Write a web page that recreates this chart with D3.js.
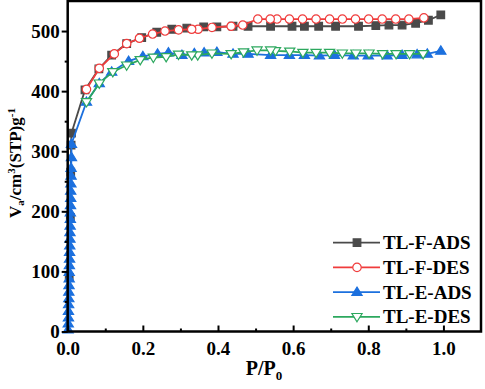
<!DOCTYPE html>
<html>
<head>
<meta charset="utf-8">
<script src="https://cdn.jsdelivr.net/npm/d3@7"></script>
<style>
  body { margin: 0; background: #fff; }
  text { font-family: "Liberation Serif", "Times New Roman", serif; font-weight: bold; }
</style>
</head>
<body>
<script>
// TL-F adsorption
var fAdsP = [0.004, 0.007, 0.008, 0.009, 0.01, 0.046, 0.083, 0.117, 0.157, 0.197, 0.237, 0.277, 0.317,
    0.362, 0.397, 0.44, 0.48, 0.54, 0.597, 0.63, 0.668, 0.713, 0.774, 0.82, 0.855, 0.89, 0.926, 0.96, 0.993];
var fAdsV = [90, 190, 265, 310, 330, 402, 437, 460, 479, 489, 498, 503, 505,
    507, 507, 508, 508, 508, 508, 508, 508, 508, 508, 509, 510, 510, 513, 518, 527];

// TL-F desorption
var fDesP = [0.948, 0.908, 0.873, 0.837, 0.801, 0.766, 0.731, 0.697, 0.661, 0.625, 0.59, 0.557, 0.539, 0.506,
    0.466, 0.435, 0.384, 0.347, 0.33, 0.295, 0.259, 0.226, 0.191, 0.157, 0.124, 0.084, 0.05];
var fDesV = [522, 520, 520, 520, 520, 520, 520, 520, 520, 520, 520, 520, 520, 520,
    510, 508, 506, 503, 503, 502, 500, 495, 488, 479, 462, 438, 403];

// TL-E adsorption
var eAdsP = [0.001, 0.0015, 0.002, 0.002, 0.0025, 0.003, 0.003, 0.0035, 0.004, 0.004, 0.0045, 0.005, 0.005,
    0.0055, 0.006, 0.006, 0.0065, 0.007, 0.007, 0.0075, 0.008, 0.008, 0.0085, 0.009, 0.009, 0.01, 0.01,
    0.05, 0.084, 0.117, 0.162, 0.2, 0.239, 0.268, 0.304, 0.337, 0.363, 0.397, 0.44, 0.48, 0.54, 0.59,
    0.63, 0.67, 0.71, 0.76, 0.8, 0.85, 0.89, 0.93, 0.957, 0.993];
var eAdsV = [3, 13, 23, 34, 45, 55, 66, 77, 88, 99, 110, 121, 132, 143, 154, 165, 176, 187, 198, 210,
    222, 234, 246, 259, 272, 290, 312,
    382, 413, 432, 450, 458, 462, 464, 460, 463, 464, 465, 462, 462, 460, 460,
    460, 459, 460, 459, 459, 459, 460, 461, 462, 467];

// TL-E desorption
var eDesP = [0.946, 0.91, 0.874, 0.838, 0.802, 0.767, 0.731, 0.697, 0.661, 0.626, 0.591, 0.553, 0.54, 0.504,
    0.468, 0.435, 0.384, 0.346, 0.33, 0.295, 0.262, 0.228, 0.193, 0.157, 0.12, 0.084, 0.05];
var eDesV = [462, 462, 462, 462, 463, 463, 463, 464, 464, 464, 466, 467, 468, 468,
    465, 462, 463, 460, 460, 461, 457, 456, 452, 443, 432, 413, 382];

var seriesNames = ["TL-F-ADS", "TL-F-DES", "TL-E-ADS", "TL-E-DES"];
var seriesColors = ["#4a4a4a", "#f03c3c", "#1c70de", "#2ca85e"];
var seriesShapes = ["square", "circle", "up", "down"];
var xTicks = [0, 0.2, 0.4, 0.6, 0.8, 1.0];
var yTicks = [0, 100, 200, 300, 400, 500];

var series = [
    { name: seriesNames[0], p: fAdsP, v: fAdsV },
    { name: seriesNames[1], p: fDesP, v: fDesV },
    { name: seriesNames[2], p: eAdsP, v: eAdsV },
    { name: seriesNames[3], p: eDesP, v: eDesV }
];

var width = 485, height = 389;
var pLeft = 67.7, pRight = 481, pTop = 1, pBottom = 331.5;

var svg = d3.select("body").append("svg")
    .attr("width", width)
    .attr("height", height);

var x = d3.scaleLinear().domain([0, 1.1]).range([pLeft, pRight]);
var y = d3.scaleLinear().domain([0, 550]).range([pBottom, pTop]);

var line = d3.line()
    .x(function (d) { return x(d[0]); })
    .y(function (d) { return y(d[1]); });

// marker path centered on 0,0
function marker(shape) {
    if (shape == "square") return "M-3.8,-3.8H3.8V3.8H-3.8Z";
    if (shape == "circle") return "M-4.2,0A4.2,4.2 0 1,0 4.2,0A4.2,4.2 0 1,0 -4.2,0Z";
    if (shape == "up") return "M0,-5L5.1,3.3L-5.1,3.3Z";
    return "M0,5L5.1,-3.3L-5.1,-3.3Z";
}
function filled(shape) { return shape == "square" || shape == "up"; }

var plot = svg.append("g");

series.forEach(function (s, i) {
    var pts = s.p.map(function (p, j) { return [p, s.v[j]]; });
    var g = plot.append("g").attr("class", "series");
    g.append("path")
        .datum(pts)
        .attr("fill", "none")
        .attr("stroke", seriesColors[i])
        .attr("stroke-width", 1.8)
        .attr("d", line);
    g.selectAll("path.pt")
        .data(pts)
        .enter()
        .append("path")
        .attr("class", "pt")
        .attr("transform", function (d) { return "translate(" + x(d[0]) + "," + y(d[1]) + ")"; })
        .attr("d", marker(seriesShapes[i]))
        .attr("fill", filled(seriesShapes[i]) ? seriesColors[i] : "#fff")
        .attr("stroke", seriesColors[i])
        .attr("stroke-width", 1.2);
});

// frame
svg.append("rect")
    .attr("x", pLeft).attr("y", pTop)
    .attr("width", pRight - pLeft).attr("height", pBottom - pTop)
    .attr("fill", "none")
    .attr("stroke", "#000")
    .attr("stroke-width", 2.5);

// y axis: outward ticks
svg.append("g")
    .attr("transform", "translate(" + pLeft + ",0)")
    .call(d3.axisLeft(y).tickValues(yTicks).tickSize(6).tickPadding(2).tickFormat(d3.format("d")));
svg.append("g")
    .attr("transform", "translate(" + pLeft + ",0)")
    .call(d3.axisLeft(y).tickValues([50, 150, 250, 350, 450]).tickSize(3).tickFormat(""));

// x axis: inward ticks
svg.append("g")
    .attr("transform", "translate(0," + pBottom + ")")
    .call(d3.axisBottom(x).tickValues(xTicks).tickSizeInner(-6).tickSizeOuter(0).tickPadding(10).tickFormat(d3.format(".1f")));
svg.append("g")
    .attr("transform", "translate(0," + pBottom + ")")
    .call(d3.axisBottom(x).tickValues([0.1, 0.3, 0.5, 0.7, 0.9]).tickSizeInner(-3).tickSizeOuter(0).tickFormat(""));

svg.selectAll(".domain").remove();
svg.selectAll(".tick line").attr("stroke", "#000").attr("stroke-width", 2);
svg.selectAll(".tick text")
    .attr("fill", "#000")
    .style("font-size", "19px")
    .style("font-family", "Liberation Serif")
    .style("font-weight", "bold");

// axis titles
var xt = svg.append("text")
    .attr("x", 264).attr("y", 375)
    .attr("text-anchor", "middle")
    .style("font-size", "20px");
xt.append("tspan").text("P/P");
xt.append("tspan").attr("baseline-shift", "-35%").style("font-size", "13px").text("0");

var yt = svg.append("text")
    .attr("transform", "translate(21,163) rotate(-90)")
    .attr("text-anchor", "middle")
    .style("font-size", "17px");
yt.append("tspan").text("V");
yt.append("tspan").attr("baseline-shift", "-30%").style("font-size", "11px").text("a");
yt.append("tspan").text("/cm");
yt.append("tspan").attr("baseline-shift", "super").style("font-size", "11px").text("3");
yt.append("tspan").text("(STP)g");
yt.append("tspan").attr("baseline-shift", "super").style("font-size", "11px").text("-1");

// legend
var legend = svg.append("g");
series.forEach(function (s, i) {
    var ly = 242.7 + i * 24.7;
    legend.append("line")
        .attr("x1", 333).attr("x2", 380)
        .attr("y1", ly).attr("y2", ly)
        .attr("stroke", seriesColors[i])
        .attr("stroke-width", 1.8);
    legend.append("path")
        .attr("transform", "translate(357," + ly + ")")
        .attr("d", marker(seriesShapes[i]))
        .attr("fill", filled(seriesShapes[i]) ? seriesColors[i] : "#fff")
        .attr("stroke", seriesColors[i])
        .attr("stroke-width", 1.2);
    legend.append("text")
        .attr("x", 383).attr("y", ly + 6.5)
        .style("font-size", "19px")
        .text(s.name);
});
</script>
</body>
</html>
